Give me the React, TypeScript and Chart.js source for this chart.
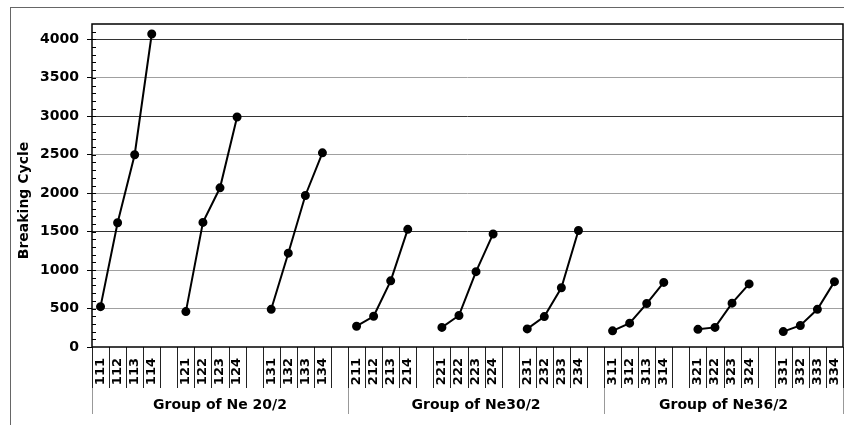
import React, { useEffect, useRef } from 'react';
import { Chart, registerables } from 'chart.js';

Chart.register(...registerables);

const groupLabels = ['Group of Ne 20/2', 'Group of Ne30/2', 'Group of Ne36/2'];

const sampleCodes = [
  ['111', '112', '113', '114'],
  ['121', '122', '123', '124'],
  ['131', '132', '133', '134'],
  ['211', '212', '213', '214'],
  ['221', '222', '223', '224'],
  ['231', '232', '233', '234'],
  ['311', '312', '313', '314'],
  ['321', '322', '323', '324'],
  ['331', '332', '333', '334'],
];

const cycles11 = [525, 1615, 2500, 4070];
const cycles12 = [460, 1620, 2070, 2990];
const cycles13 = [490, 1220, 1970, 2525];
const cycles21 = [270, 400, 860, 1530];
const cycles22 = [255, 410, 980, 1470];
const cycles23 = [235, 395, 770, 1515];
const cycles31 = [210, 310, 565, 840];
const cycles32 = [230, 255, 570, 820];
const cycles33 = [200, 280, 490, 850];

const seriesBySubgroup = [cycles11, cycles12, cycles13, cycles21, cycles22, cycles23, cycles31, cycles32, cycles33];

const yTickValues = [0, 500, 1000, 1500, 2000, 2500, 3000, 3500, 4000];
const darkGridValues = [1500, 3000, 4000];

const FONT = "'DejaVu Sans', Verdana, sans-serif";

// build category labels / data with blank spacer slots between subgroups
const labels: string[] = [];
const values: (number | null)[] = [];
const groupBounds: number[] = [-0.5];
seriesBySubgroup.forEach((vals, i) => {
  sampleCodes[i].forEach((c, j) => {
    labels.push(c);
    values.push(vals[j]);
  });
  if (i < seriesBySubgroup.length - 1) {
    labels.push('');
    values.push(null);
  }
  if (i % 3 === 2) groupBounds.push(labels.length - 0.5);
});

const decorPlugin = {
  id: 'decor',
  afterDraw(chart: any) {
    const { ctx, chartArea } = chart;
    const x = chart.scales.x;
    const y = chart.scales.y;
    ctx.save();
    // y inner ticks every 100
    ctx.strokeStyle = '#000';
    ctx.lineWidth = 1;
    for (let v = 100; v < 4200; v += 100) {
      const py = Math.round(y.getPixelForValue(v)) + 0.5;
      ctx.beginPath();
      ctx.moveTo(chartArea.left, py);
      ctx.lineTo(chartArea.left + 4, py);
      ctx.stroke();
    }
    // category separators
    ctx.strokeStyle = '#222';
    for (let b = -0.5; b <= labels.length - 0.5; b += 1) {
      const px = Math.round(x.getPixelForValue(b)) + 0.5;
      ctx.beginPath();
      ctx.moveTo(px, chartArea.bottom);
      ctx.lineTo(px, chartArea.bottom + 41);
      ctx.stroke();
    }
    // group separators
    ctx.strokeStyle = '#999';
    groupBounds.forEach((b) => {
      const px = Math.round(x.getPixelForValue(b)) + 0.5;
      ctx.beginPath();
      ctx.moveTo(px, chartArea.bottom + 41);
      ctx.lineTo(px, chartArea.bottom + 67);
      ctx.stroke();
    });
    // group labels
    ctx.fillStyle = '#000';
    ctx.font = `bold 14px ${FONT}`;
    ctx.textAlign = 'center';
    ctx.textBaseline = 'middle';
    groupLabels.forEach((g, i) => {
      const cx = (x.getPixelForValue(groupBounds[i]) + x.getPixelForValue(groupBounds[i + 1])) / 2;
      ctx.fillText(g, cx, chartArea.bottom + 58);
    });
    // y title
    ctx.save();
    ctx.translate(24, (chartArea.top + chartArea.bottom) / 2 + 15);
    ctx.rotate(-Math.PI / 2);
    ctx.font = `bold 14px ${FONT}`;
    ctx.fillText('Breaking Cycle', 0, 0);
    ctx.restore();
    // plot border
    ctx.strokeStyle = '#000';
    ctx.lineWidth = 1.5;
    ctx.strokeRect(chartArea.left, chartArea.top, chartArea.right - chartArea.left, chartArea.bottom - chartArea.top);
    ctx.restore();
  },
};

export default function App() {
  const ref = useRef<HTMLCanvasElement>(null);
  useEffect(() => {
    if (!ref.current) return;
    const chart = new Chart(ref.current, {
      type: 'line',
      data: {
        labels,
        datasets: [
          {
            data: values,
            borderColor: '#000',
            backgroundColor: '#000',
            borderWidth: 2,
            pointRadius: 3.5,
            pointBackgroundColor: '#000',
            pointBorderColor: '#000',
            spanGaps: false,
            tension: 0,
          },
        ],
      },
      options: {
        responsive: false,
        animation: false,
        layout: { padding: { left: 0, right: 0, top: 24, bottom: 0 } },
        plugins: { legend: { display: false }, tooltip: { enabled: false } },
        scales: {
          x: {
            type: 'category',
            offset: true,
            grid: { display: false, offset: true },
            border: { display: false },
            ticks: {
              autoSkip: false,
              maxRotation: 90,
              minRotation: 90,
              padding: 3,
              color: '#000',
              font: { family: FONT, size: 13, weight: 'bold' },
            },
            afterFit: (s: any) => {
              s.height = 78;
              s.paddingLeft = 0;
              s.paddingRight = 0;
            },
          },
          y: {
            min: 0,
            max: 4200,
            ticks: {
              stepSize: 500,
              padding: 8,
              color: '#000',
              font: { family: FONT, size: 14, weight: 'bold' },
              callback: (v: any) => String(v),
            },
            afterBuildTicks: (s: any) => {
              s.ticks = yTickValues.map((v) => ({ value: v }));
            },
            grid: {
              color: (c: any) =>
                c.tick && c.tick.value === 0
                  ? 'rgba(0,0,0,0)'
                  : darkGridValues.includes(c.tick?.value)
                  ? '#333'
                  : '#a0a0a0',
              tickColor: '#000',
              tickLength: 5,
              lineWidth: 1,
            },
            border: { display: false },
            afterFit: (s: any) => {
              s.width = 92;
            },
          },
        },
      },
      plugins: [decorPlugin],
    });
    return () => chart.destroy();
  }, []);
  return (
    <div style={{ position: 'fixed', left: 0, top: 0, width: 844, height: 425, background: '#fff', overflow: 'hidden' }}>
      <canvas ref={ref} width={849} height={425} style={{ position: 'absolute', left: 0, top: 0 }} />
      <div
        style={{
          position: 'absolute',
          left: 10,
          top: 7,
          width: 840,
          height: 425,
          borderLeft: '1px solid #666',
          borderTop: '1px solid #666',
          pointerEvents: 'none',
        }}
      />
    </div>
  );
}
